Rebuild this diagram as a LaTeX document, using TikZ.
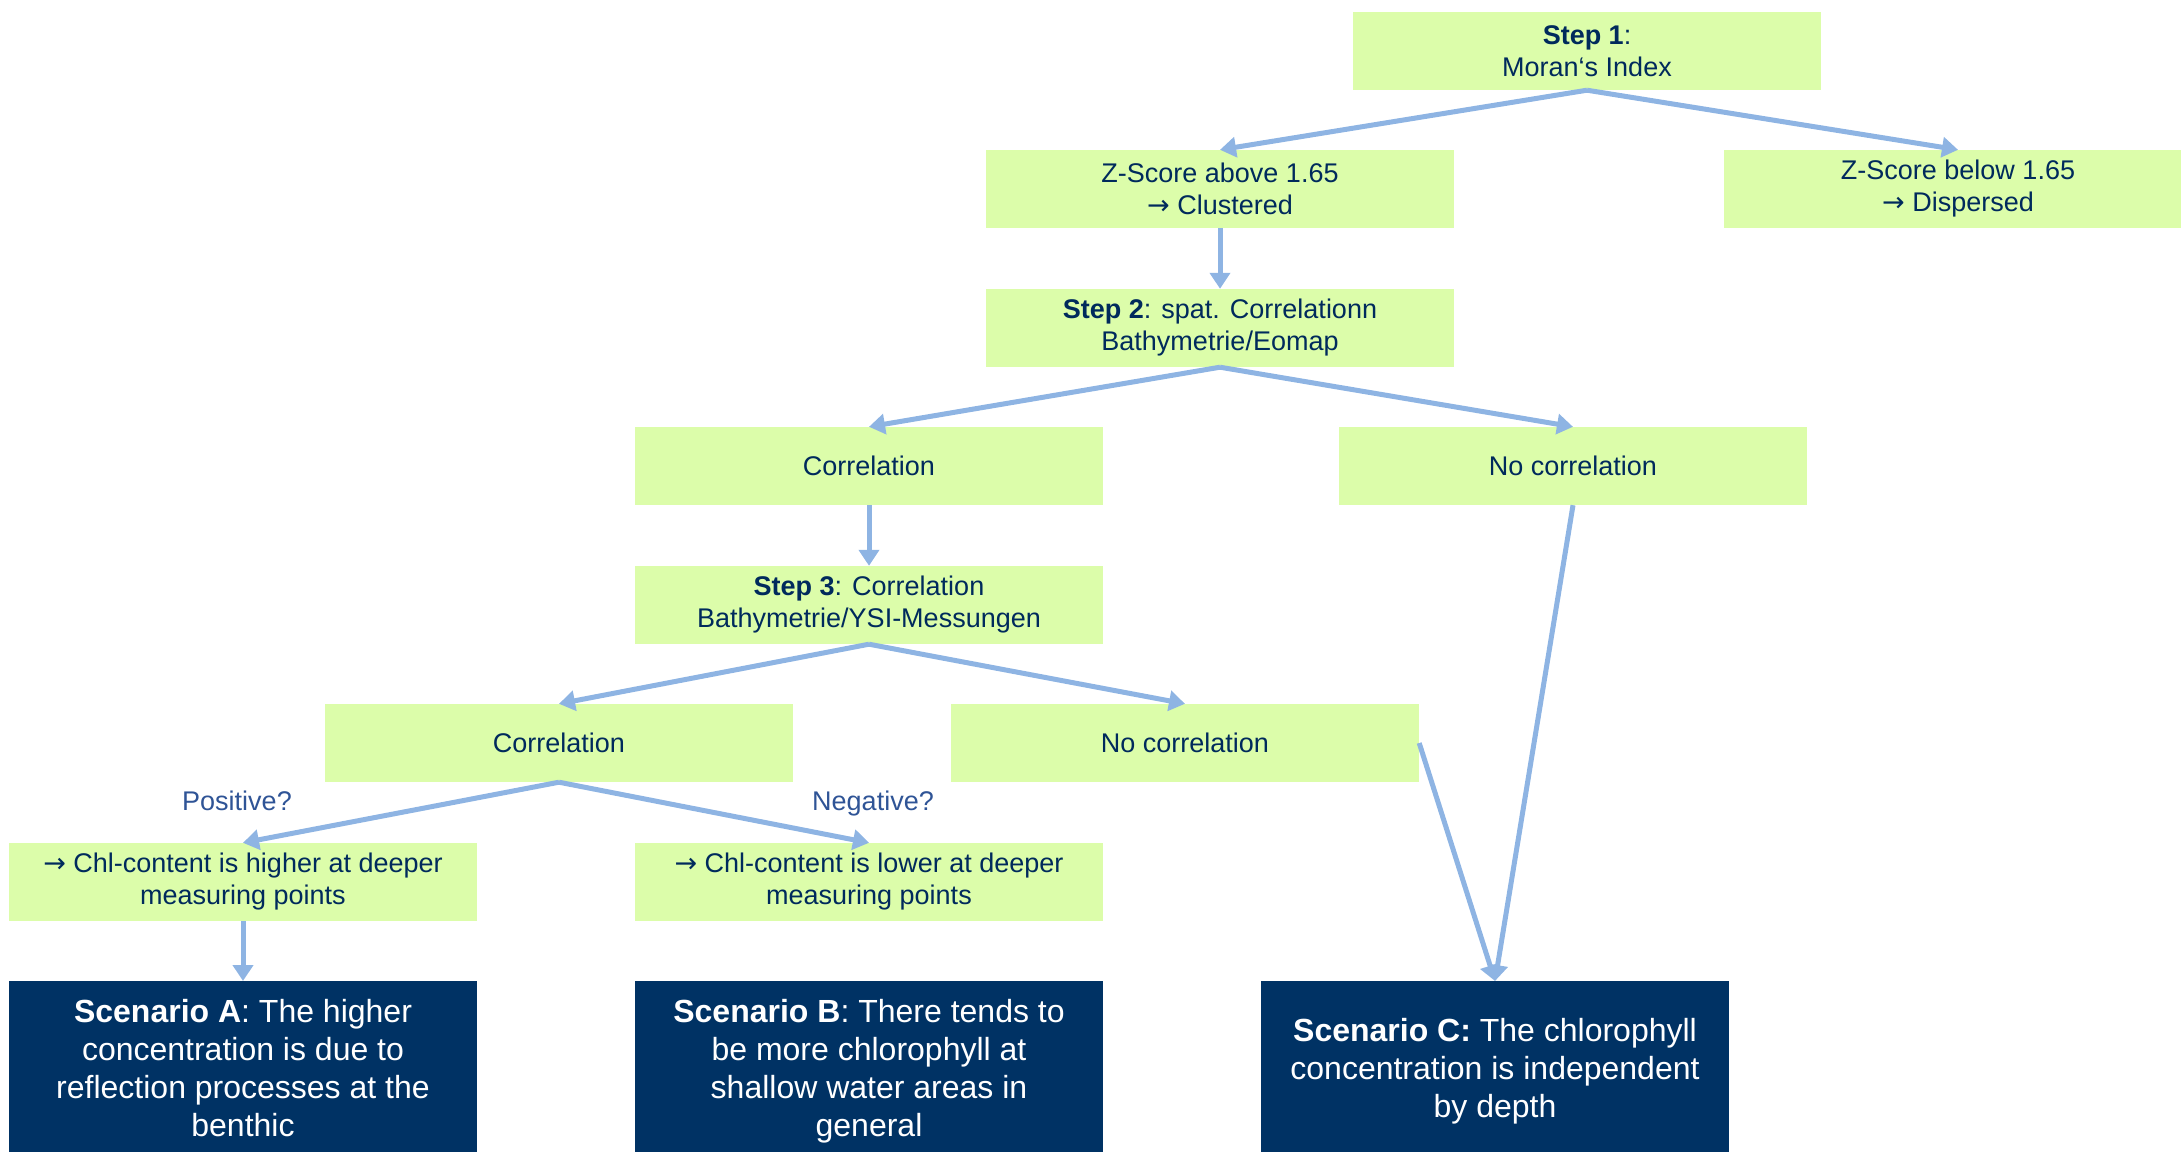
\documentclass[tikz,border=0pt]{standalone}
\usepackage{fontspec}
\setmainfont{Liberation Sans}
\newfontfamily\arrowfont{DejaVu Sans}
\newcommand{\toarrow}{{\arrowfont →}}
\usetikzlibrary{arrows.meta}
\definecolor{palegreen}{HTML}{DCFDAA}
\definecolor{navytext}{HTML}{002A5C}
\definecolor{navyfill}{HTML}{003264}
\definecolor{arrowblue}{HTML}{8EB4E3}
\definecolor{asktext}{HTML}{2F5496}
\begin{document}
\begin{tikzpicture}[x=1pt,y=-1pt,
  greenbox/.style={fill=palegreen,text=navytext,minimum width=468pt,minimum height=78pt,
    inner sep=0pt,align=center,font=\fontsize{27}{32}\selectfont},
  darkbox/.style={fill=navyfill,text=white,minimum width=468pt,minimum height=174pt,
    inner sep=0pt,align=center,anchor=north,font=\fontsize{32}{38}\selectfont,
    text depth=0pt},
  asklabel/.style={text=asktext,font=\fontsize{27}{32}\selectfont,anchor=base},
  arr/.style={draw=arrowblue,line width=5pt,-{Triangle[width=20pt,length=16pt]}}]
\useasboundingbox (0,0) rectangle (2181,1151);
\node [greenbox] (step1) at (1587,51) {\textbf{Step 1}:\\Moran‘s Index};
\node [greenbox] (zab) at (1220,189) {Z-Score above 1.65\\\toarrow{} Clustered};
\node [greenbox] (zbe) at (1958,189) {Z-Score below 1.65\\\toarrow{} Dispersed};
\node [greenbox] (step2) at (1220,328) {\textbf{Step 2}: spat. Correlationn\\Bathymetrie/Eomap};
\node [greenbox] (corr1) at (869,466) {Correlation};
\node [greenbox] (ncorr1) at (1573,466) {No correlation};
\node [greenbox] (step3) at (869,605) {\textbf{Step 3}: Correlation\\Bathymetrie/YSI-Messungen};
\node [greenbox] (corr2) at (559,743) {Correlation};
\node [greenbox] (ncorr2) at (1185,743) {No correlation};
\node [greenbox] (chlh) at (243,882) {\toarrow{} Chl-content is higher at deeper\\measuring points};
\node [greenbox] (chll) at (869,882) {\toarrow{} Chl-content is lower at deeper\\measuring points};
\node [darkbox] (scA) at (243,981) {\textbf{Scenario A}: The higher\\concentration is due to\\reflection processes at the\\benthic};
\node [darkbox] (scB) at (869,981) {\textbf{Scenario B}: There tends to\\be more chlorophyll at\\shallow water areas in\\general};
\node [darkbox] (scC) at (1495,981) {\textbf{Scenario C:} The chlorophyll\\concentration is independent\\by depth};
\node [asklabel] (pos) at (237,810) {Positive?};
\node [asklabel] (neg) at (873,810) {Negative?};
  \foreach \from/\to in {step1.south/zab.north,step1.south/zbe.north,zab.south/step2.north,
    step2.south/corr1.north,step2.south/ncorr1.north,corr1.south/step3.north,
    step3.south/corr2.north,step3.south/ncorr2.north,corr2.south/chlh.north,
    corr2.south/chll.north,chlh.south/scA.north,ncorr1.south/scC.north,ncorr2.east/scC.north}
  {  \draw [arr] (\from) -- (\to);}
\end{tikzpicture}
\end{document}
